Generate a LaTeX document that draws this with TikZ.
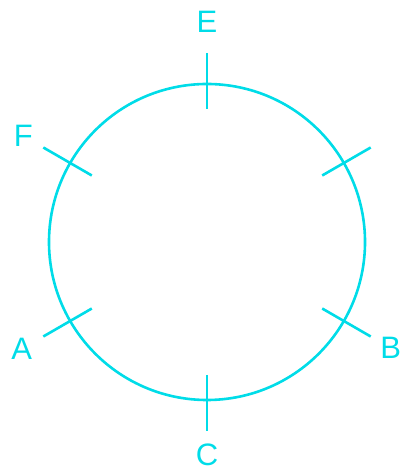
\documentclass[tikz,border=0pt]{standalone}
\usepackage{fontspec}
\setmainfont{Liberation Sans}
\usetikzlibrary{calc}
\definecolor{ringcyan}{RGB}{0,220,232}

\begin{document}
\begin{tikzpicture}[x=1pt, y=1pt, font=\fontsize{31}{31}\selectfont,
	   ln/.style={draw=ringcyan, line width=2.6pt},
	   lbl/.style={text=ringcyan, inner sep=0pt}]
	  \useasboundingbox (0,0) rectangle (404,470);
	  \coordinate (o) at (207,228);
	  \draw[ln] (o) circle (158);
	  % ticks on the rim
	  \foreach \a in {30,90,...,330}
	    \draw[ln] ($(o)+(\a:133)$) -- ($(o)+(\a:189)$);
	  \node[lbl] (E) at ($(o)+(90:220)$) {E};
	  \node[lbl] (F) at ($(o)+(150:212)$) {F};
	  \node[lbl] (A) at ($(o)+(210:214)$) {A};
	  \node[lbl] (C) at ($(o)+(270:213)$) {C};
	  \node[lbl] (B) at ($(o)+(330:212)$) {B};
	\end{tikzpicture}
\end{document}
